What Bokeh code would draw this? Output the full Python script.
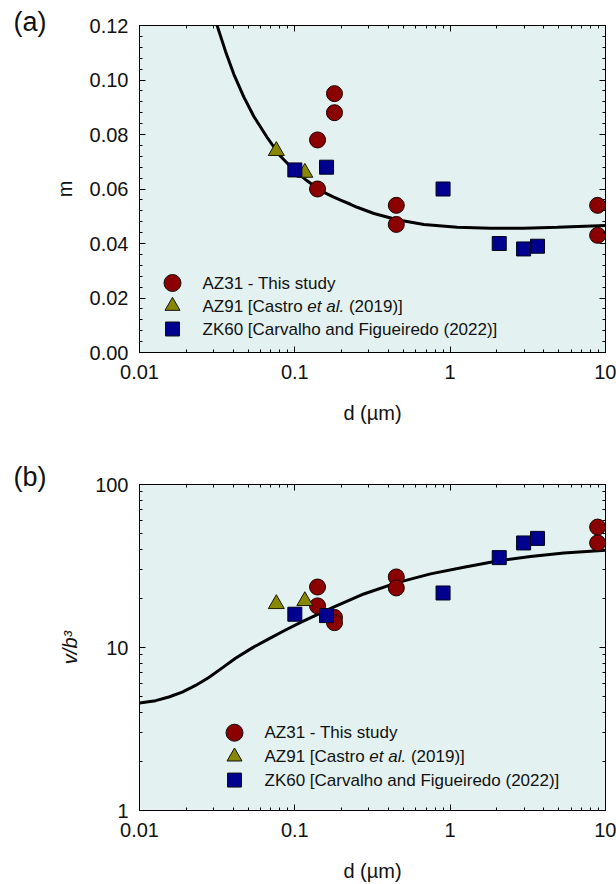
import math

from bokeh.embed import file_html
from bokeh.layouts import column
from bokeh.models import FixedTicker, Label, LinearAxis, LogAxis, Range1d, Title
from bokeh.plotting import figure
from bokeh.resources import INLINE

# ---------------------------------------------------------------- data
# grain size d (um) for each alloy
d_az31 = [0.14, 0.14, 0.18, 0.18, 0.45, 0.45, 8.9, 8.9]
d_az91 = [0.076, 0.116]
d_zk60 = [0.10, 0.16, 0.90, 2.07, 2.97, 3.65]

# strain-rate sensitivity m
m_az31 = [0.078, 0.060, 0.095, 0.088, 0.054, 0.047, 0.054, 0.043]
m_az91 = [0.074, 0.066]
m_zk60 = [0.067, 0.068, 0.060, 0.040, 0.038, 0.039]

# activation volume v/b^3
v_az31 = [23.5, 18.0, 15.3, 14.2, 27.1, 23.2, 54.8, 43.8]
v_az91 = [18.5, 19.3]
v_zk60 = [16.0, 15.7, 21.6, 35.6, 43.8, 46.7]

# model curve m(d)
fit_m_d = [0.0316, 0.0358, 0.0405, 0.0469, 0.0545, 0.0664, 0.0809, 0.0985,
           0.120, 0.146, 0.178, 0.197, 0.228, 0.252, 0.323, 0.456, 0.677,
           1.11, 1.82, 2.98, 4.90, 10.0]
fit_m = [0.1200, 0.1105, 0.1021, 0.0938, 0.0866, 0.0789, 0.0720, 0.0670,
         0.0630, 0.0594, 0.0570, 0.0559, 0.0544, 0.0533, 0.0510, 0.0487,
         0.0470, 0.0460, 0.0456, 0.0456, 0.0460, 0.0466]

# model curve v/b^3 (d)
fit_v_d = [0.01, 0.0127, 0.01545, 0.01884, 0.02295, 0.02794, 0.0341, 0.0415,
           0.0532, 0.068, 0.0871, 0.1116, 0.1428, 0.176, 0.278, 0.456, 0.748,
           1.225, 2.01, 3.29, 5.40, 10.0]
fit_v = [4.56, 4.72, 4.97, 5.33, 5.85, 6.55, 7.50, 8.60, 9.95, 11.3, 12.8,
         14.4, 16.1, 17.6, 21.3, 25.0, 28.3, 31.1, 33.9, 36.2, 38.0, 39.5]

# axis ticks
x_ticks = [0.01, 0.1, 1, 10]
x_tick_labels = ["0.01", "0.1", "1", "10"]
m_ticks = [0.0, 0.02, 0.04, 0.06, 0.08, 0.10, 0.12]
m_tick_labels = ["0.00", "0.02", "0.04", "0.06", "0.08", "0.10", "0.12"]
v_ticks = [1, 10, 100]
v_tick_labels = ["1", "10", "100"]

series_names = ["AZ31 - This study",
                "AZ91 [Castro et al. (2019)]",
                "ZK60 [Carvalho and Figueiredo (2022)]"]

# ---------------------------------------------------------------- style
FONT = "Liberation Sans"
BG = "#E3F1F0"
C_AZ31 = "#8B0000"
C_AZ91 = "#878700"
C_ZK60 = "#00008F"

W = 616
FRAME_L, FRAME_R = 139, 605
FRAME_H = 327

log_minor = [k * 10.0 ** e for e in (-2, -1, 0, 1) for k in range(2, 10)]
m_minor = [round(i * 0.004, 3) for i in range(31) if i % 5]


def style_axis(ax, ticker, labels=None, show=True):
    ax.ticker = ticker
    ax.axis_line_color = "black"
    ax.axis_line_width = 1
    ax.major_tick_in = 6
    ax.major_tick_out = 0
    ax.minor_tick_in = 3
    ax.minor_tick_out = 0
    ax.major_tick_line_color = "black"
    ax.minor_tick_line_color = "black"
    ax.major_label_text_font = FONT
    ax.major_label_text_color = "#111111"
    ax.axis_label_text_font = FONT
    ax.axis_label_text_color = "#111111"
    ax.axis_label_text_font_style = "normal"
    if show:
        ax.major_label_text_font_size = "20px"
        ax.axis_label_text_font_size = "20px"
        ax.major_label_overrides = labels
    else:
        # mirrored axis: ticks only
        ax.major_label_text_font_size = "1px"
        ax.major_label_text_alpha = 0
        ax.major_label_standoff = 0


def make_panel(height, top, y_range, y_type, y_ticks, y_minor, y_labels, y_label,
               tag, tag_standoff):
    p = figure(width=W, height=height, x_axis_type="log", y_axis_type=y_type,
               x_range=Range1d(0.01, 10), y_range=y_range,
               output_backend="svg", toolbar_location=None,
               min_border_left=FRAME_L, min_border_right=W - FRAME_R,
               min_border_top=top, min_border_bottom=height - top - FRAME_H)
    # panel tag "(a)" / "(b)" in the top-left corner
    p.title = Title(text=tag, align="left", offset=13 - FRAME_L,
                    standoff=tag_standoff, text_font=FONT, text_font_size="27px",
                    text_font_style="normal", text_color="#111111")
    p.background_fill_color = BG
    p.border_fill_color = "white"
    p.outline_line_color = "black"
    p.grid.visible = False

    xb = p.xaxis[0]
    style_axis(xb, FixedTicker(ticks=x_ticks, minor_ticks=log_minor),
               dict(zip(x_ticks, x_tick_labels)))
    xb.major_label_standoff = 12
    xb.axis_label = "d (\u00b5m)"
    xb.axis_label_standoff = 20

    yl = p.yaxis[0]
    style_axis(yl, FixedTicker(ticks=y_ticks, minor_ticks=y_minor), y_labels)
    yl.major_label_standoff = 11
    yl.axis_label = y_label
    yl.axis_label_standoff = 11

    xa = LogAxis()
    style_axis(xa, FixedTicker(ticks=x_ticks, minor_ticks=log_minor), show=False)
    p.add_layout(xa, "above")

    yr = LogAxis() if y_type == "log" else LinearAxis()
    style_axis(yr, FixedTicker(ticks=y_ticks, minor_ticks=y_minor), show=False)
    p.add_layout(yr, "right")
    return p


def add_series(p, y_az31, y_az91, y_zk60, fit_d, fit_y):
    p.line(fit_d, fit_y, line_color="black", line_width=3)
    p.scatter(d_az31, y_az31, marker="circle", size=16,
              fill_color=C_AZ31, line_color="#1a0000", line_width=1)
    p.scatter(d_az91, y_az91, marker="triangle", size=16,
              fill_color=C_AZ91, line_color="#1a1a00", line_width=1)
    p.scatter(d_zk60, y_zk60, marker="square", size=14,
              fill_color=C_ZK60, line_color="#00001a", line_width=1)


def add_legend(p, x_data, rows_data):
    markers = [("circle", 17, C_AZ31), ("triangle", 15, C_AZ91), ("square", 14, C_ZK60)]
    for (mk, sz, col), yv in zip(markers, rows_data):
        p.scatter([x_data], [yv], marker=mk, size=sz, fill_color=col,
                  line_color="#111111", line_width=1)
    fs = 17
    common = dict(text_font=FONT, text_font_size=f"{fs}px", text_color="#111111",
                  text_baseline="middle", text_align="left")
    gap = 30
    p.add_layout(Label(x=x_data, y=rows_data[0], x_offset=gap, text=series_names[0], **common))
    # second entry has an italic "et al."
    w1 = 6.169 * fs
    w2 = 2.446 * fs
    p.add_layout(Label(x=x_data, y=rows_data[1], x_offset=gap, text="AZ91 [Castro", **common))
    p.add_layout(Label(x=x_data, y=rows_data[1], x_offset=gap + w1, text="et al.",
                       text_font_style="italic", **common))
    p.add_layout(Label(x=x_data, y=rows_data[1], x_offset=gap + w1 + w2, text="(2019)]", **common))
    p.add_layout(Label(x=x_data, y=rows_data[2], x_offset=gap, text=series_names[2], **common))


def px_to_logx(px):
    return 10 ** (-2 + 3 * (px - FRAME_L) / (FRAME_R - FRAME_L))


# ---------------------------------------------------------------- panel (a)
H1, TOP1 = 452, 25
p1 = make_panel(H1, TOP1, Range1d(0, 0.12), "linear", m_ticks, m_minor,
                dict(zip(m_ticks, m_tick_labels)), "m", "(a)", -23)
add_series(p1, m_az31, m_az91, m_zk60, fit_m_d, fit_m)


def py_to_m(py):
    return 0.12 * (1 - (py - TOP1) / FRAME_H)


add_legend(p1, px_to_logx(172), [py_to_m(282.5), py_to_m(305.5), py_to_m(328.5)])

# ---------------------------------------------------------------- panel (b)
H2 = 884 - H1
TOP2 = 484 - H1
p2 = make_panel(H2, TOP2, Range1d(1, 100), "log", v_ticks, log_minor,
                dict(zip(v_ticks, v_tick_labels)), "v/b\u00b3", "(b)", -15)
p2.yaxis[0].axis_label_text_font_style = "italic"
add_series(p2, v_az31, v_az91, v_zk60, fit_v_d, fit_v)


def py_to_v(py):
    return 10 ** (2 * (1 - (py - 484) / FRAME_H))


add_legend(p2, px_to_logx(234), [py_to_v(733), py_to_v(757), py_to_v(780.5)])

layout = column(p1, p2, spacing=0)
open("out.html", "w").write(file_html(layout, INLINE))
